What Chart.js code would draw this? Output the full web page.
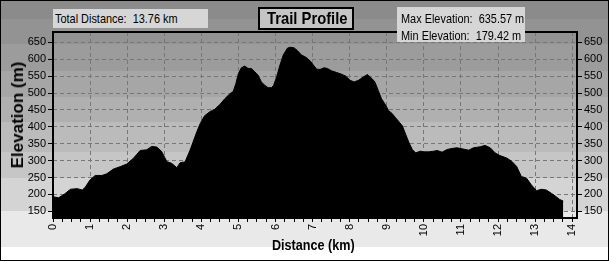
<!DOCTYPE html>
<html>
<head>
<meta charset="utf-8">
<title>Trail Profile</title>
<script src="https://cdn.jsdelivr.net/npm/chart.js@4.4.1/dist/chart.umd.min.js"></script>
<style>
  html, body { margin: 0; padding: 0; background: #fff; }
  #wrap {
    position: relative; width: 609px; height: 261px; overflow: hidden;
    background: linear-gradient(to bottom,
      #8b8b8b 0px, #8b8b8b 19px,
      #939393 19px, #939393 44px,
      #9c9c9c 44px, #9c9c9c 71px,
      #a6a6a6 71px, #a6a6a6 97px,
      #b0b0b0 97px, #b0b0b0 122px,
      #bbbbbb 122px, #bbbbbb 152px,
      #c6c6c6 152px, #c6c6c6 178px,
      #d4d4d4 178px, #d4d4d4 211px,
      #e9e9e9 211px, #e9e9e9 247px,
      #ffffff 247px, #ffffff 261px);
  }
  #profileChart { position: absolute; left: 0; top: 0; }
  .box {
    position: absolute; box-sizing: border-box; white-space: pre;
    font-family: "Liberation Sans", Arial, sans-serif;
    font-size: 13px; color: #000; background: #d6d6d6;
  }
  .narrow { display: inline-block; transform: scaleX(0.84); transform-origin: left center; }
  #distBox { left: 53px; top: 9px; width: 155px; height: 19px; padding: 2px 0 0 2px; line-height: 15px; }
  #titleBox {
    left: 258px; top: 7px; width: 96px; height: 23px; background: #c4c4c4;
    border: 2px solid #000; font-weight: bold; font-size: 17px; line-height: 19px;
  }
  #titleBox .narrow { transform: scaleX(0.87); position: absolute; left: 7px; top: 0; }
  #elevBox { left: 397px; top: 7px; width: 128px; height: 35px; padding: 3px 0 0 4px; line-height: 17px; }
  #yTitle {
    position: absolute; left: 18px; top: 115px; white-space: nowrap;
    transform: translate(-50%, -50%) rotate(-90deg);
    font: bold 17px "Liberation Sans", Arial, sans-serif; color: #000;
  }
  #xTitle {
    position: absolute; left: 272px; top: 236px; white-space: nowrap;
    font: bold 15px "Liberation Sans", Arial, sans-serif; color: #000; line-height: 18px;
  }
  #edge { position: absolute; inset: 0; border: 1px solid #000; pointer-events: none; }
</style>
</head>
<body>
<div id="wrap">
  <canvas id="profileChart" width="609" height="261"></canvas>
  <div class="box" id="distBox"><span class="narrow" id="distText"></span></div>
  <div class="box" id="titleBox"><span class="narrow">Trail Profile</span></div>
  <div class="box" id="elevBox"><span class="narrow" id="elevText"></span></div>
  <div id="yTitle">Elevation (m)</div>
  <div id="xTitle"><span class="narrow">Distance (km)</span></div>
  <div id="edge"></div>
</div>
<script>
// distance along the trail (km) and elevation (m)
const distanceKm = [
  0, 0.15, 0.3, 0.47, 0.65, 0.79, 0.87, 1.0, 1.14, 1.32,
  1.45, 1.63, 1.81, 1.99, 2.17, 2.35, 2.53, 2.66, 2.8, 2.93,
  3.07, 3.2, 3.34, 3.43, 3.56, 3.7, 3.88, 3.97, 4.09, 4.23,
  4.36, 4.5, 4.63, 4.77, 4.86, 4.93, 5.0, 5.08, 5.17, 5.26,
  5.35, 5.44, 5.53, 5.62, 5.71, 5.8, 5.89, 5.95, 6.03, 6.12,
  6.21, 6.32, 6.39, 6.5, 6.59, 6.7, 6.82, 6.93, 7.02, 7.11,
  7.2, 7.31, 7.4, 7.51, 7.65, 7.78, 7.9, 8.01, 8.12, 8.24,
  8.37, 8.48, 8.6, 8.68, 8.77, 8.86, 8.95, 9.05, 9.14, 9.23,
  9.33, 9.42, 9.51, 9.6, 9.69, 9.78, 9.91, 10.0, 10.13, 10.27,
  10.36, 10.49, 10.63, 10.76, 10.89, 11.03, 11.21, 11.34, 11.52, 11.65,
  11.79, 11.92, 12.05, 12.23, 12.37, 12.5, 12.63, 12.77, 12.9, 13.04,
  13.17, 13.3, 13.44, 13.57, 13.66, 13.76
];
const elevationM = [
  193, 190, 200, 215, 217, 213, 221, 243, 256, 256,
  261, 275, 282, 290, 307, 330, 332, 342, 340, 327,
  297, 292, 279, 294, 296, 332, 386, 410, 433, 445,
  452, 466, 483, 498, 505, 528, 558, 575, 580, 573,
  573, 563, 553, 533, 523, 516, 516, 523, 548, 583,
  613, 633, 636, 634, 626, 613, 606, 596, 583, 571,
  570, 575, 573, 566, 561, 556, 550, 538, 533, 538,
  548, 555, 543, 533, 508, 483, 468, 448, 440, 428,
  415, 403, 378, 353, 333, 323, 328, 326, 326, 328,
  330, 325, 333, 336, 338, 335, 331, 338, 341, 345,
  338, 323, 315, 308, 298, 283, 253, 248, 228, 211,
  215, 213, 203, 193, 185, 180
];

const totalDistanceKm = 13.76;
const maxElevationM = 635.57;
const minElevationM = 179.42;

// labelled ticks; grid/tick marks also sit half-way (y) and at quarters (x)
const kmLabels = [0, 1, 2, 3, 4, 5, 6, 7, 8, 9, 10, 11, 12, 13, 14];
const elevLabels = [150, 200, 250, 300, 350, 400, 450, 500, 550, 600, 650];

const elevMin = 130, elevMax = 681;
const distMin = 0, distMax = 14.13;

document.getElementById('distText').textContent = 'Total Distance:  ' + totalDistanceKm.toFixed(2) + ' km';
document.getElementById('elevText').textContent =
  'Max Elevation:  ' + maxElevationM.toFixed(2) + ' m\nMin Elevation:  ' + minElevationM.toFixed(2) + ' m';

const kmTicks = kmLabels.flatMap(k => [k, k + 0.25, k + 0.5, k + 0.75]).filter(v => v <= distMax);
const elevTicks = elevLabels.flatMap(v => [v, v + 25]);

const tickFont = { family: '"Liberation Sans", Arial, sans-serif', size: 11 };
const elevLabel = v => (elevLabels.includes(v) ? v : '');

// black frame round the plot area
const plotFrame = {
  id: 'plotFrame',
  afterDraw(chart) {
    const a = chart.chartArea;
    const c = chart.ctx;
    c.save();
    c.strokeStyle = '#000';
    c.lineWidth = 2;
    c.strokeRect(a.left, a.top, a.right - a.left, a.bottom - a.top);
    c.restore();
  }
};

Chart.defaults.color = '#000';

var ctx = document.getElementById('profileChart');
var profileChart = new Chart(ctx, { // eslint-disable-line
  type: 'line',
  data: {
    datasets: [{
      label: 'Elevation',
      data: distanceKm.map((d, i) => ({ x: d, y: elevationM[i] })),
      borderColor: '#000',
      backgroundColor: '#000',
      borderWidth: 1,
      pointRadius: 0,
      tension: 0,
      fill: 'start',
      yAxisID: 'y'
    }]
  },
  options: {
    responsive: false,
    animation: false,
    devicePixelRatio: 1,
    layout: { padding: { top: 32, left: 0, right: 0, bottom: 0 } },
    plugins: { legend: { display: false }, tooltip: { enabled: false } },
    scales: {
      x: {
        type: 'linear',
        min: distMin,
        max: distMax,
        afterBuildTicks(s) { s.ticks = kmTicks.map(v => ({ value: v })); },
        afterFit(s) { s.height = 43; },
        ticks: {
          autoSkip: false, minRotation: 90, maxRotation: 90,
          padding: 2, font: tickFont,
          callback: v => (kmLabels.includes(v) ? v : '')
        },
        grid: {
          color: c => (c.tick && kmLabels.includes(c.tick.value) ? '#777' : 'rgba(0,0,0,0)'),
          tickColor: '#000', tickLength: 4
        },
        border: { display: false, dash: [4, 3] }
      },
      y: {
        position: 'left',
        min: elevMin,
        max: elevMax,
        afterBuildTicks(s) { s.ticks = elevTicks.map(v => ({ value: v })); },
        afterFit(s) { s.width = 53; },
        ticks: { padding: 2, font: tickFont, callback: elevLabel },
        grid: { color: '#777', tickColor: '#000', tickLength: 5 },
        border: { display: false, dash: [4, 3] }
      },
      y2: {
        position: 'right',
        min: elevMin,
        max: elevMax,
        afterBuildTicks(s) { s.ticks = elevTicks.map(v => ({ value: v })); },
        afterFit(s) { s.width = 32; },
        ticks: { padding: 2, font: tickFont, callback: elevLabel },
        grid: { drawOnChartArea: false, tickColor: '#000', tickLength: 5 },
        border: { display: false }
      }
    }
  },
  plugins: [plotFrame]
});
</script>
</body>
</html>
